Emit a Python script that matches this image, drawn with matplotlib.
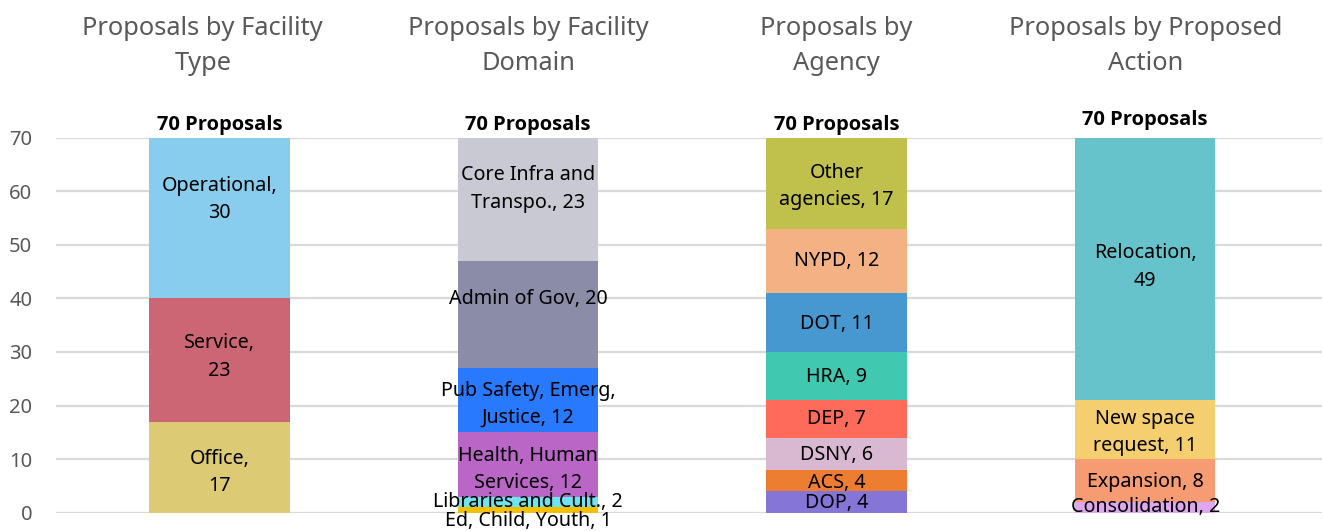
import matplotlib
matplotlib.use("Agg")
import matplotlib.pyplot as plt

# ---------------- data ----------------
titles = ["Proposals by Facility\nType", "Proposals by Facility\nDomain",
          "Proposals by\nAgency", "Proposals by Proposed\nAction"]
total_labels = ["70 Proposals", "70 Proposals", "70 Proposals", "70 Proposals"]
totals = [70, 70, 70, 70]

type_labels = ["Office,\n{}", "Service,\n{}", "Operational,\n{}"]
type_values = [17, 23, 30]
type_colors = ["#DCCA74", "#CC6674", "#88CCEE"]

domain_labels = ["Ed, Child, Youth, {}", "Libraries and Cult., {}", "Health, Human\nServices, {}",
                 "Pub Safety, Emerg,\nJustice, {}", "Admin of Gov, {}", "Core Infra and\nTranspo., {}"]
domain_values = [1, 2, 12, 12, 20, 23]
domain_colors = ["#F5C000", "#6FE3EE", "#B966C6", "#2979FF", "#8A8CA8", "#C9C9D4"]

agency_labels = ["DOP, {}", "ACS, {}", "DSNY, {}", "DEP, {}", "HRA, {}", "DOT, {}", "NYPD, {}",
                 "Other\nagencies, {}"]
agency_values = [4, 4, 6, 7, 9, 11, 12, 17]
agency_colors = ["#8475D6", "#ED7D31", "#D9B8D2", "#FF6B5B", "#40C8B0", "#4798D0", "#F4B184", "#C0C04C"]

action_labels = ["Consolidation, {}", "Expansion, {}", "New space\nrequest, {}", "Relocation,\n{}"]
action_values = [2, 8, 11, 49]
action_colors = ["#DDA8EE", "#F79B72", "#F5CE70", "#66C3CC"]

groups = [
    (type_labels, type_values, type_colors),
    (domain_labels, domain_values, domain_colors),
    (agency_labels, agency_values, agency_colors),
    (action_labels, action_values, action_colors),
]

# ---------------- layout / style ----------------
label_offsets = [  # vertical nudges of data labels, in points
    [-4, 2, 13.5],
    [-8, 0, -3.5, -3, 11.5, 7.5],
    [-1, -2, -1, 0, -1, -1, 0, -2.5],
    [0, -1, -2, 1.5],
]
title_dx = [-12, 0, 0, 0]   # points
total_dy = [0, 0, 0, 3]     # points
positions = [0, 1, 2, 3]
bar_width = 0.455

FONT = "Noto Sans"
plt.rcParams["font.family"] = [FONT, "DejaVu Sans"]

fig = plt.figure(figsize=(13.23, 5.31), dpi=100)
ax = fig.add_axes([56 / 1323, 18.3 / 531, 1266 / 1323, 375 / 531])
ax.set_xlim(-0.530, 3.573)
ax.set_ylim(0, 70)
ax.set_yticks(range(0, 71, 10))
ax.tick_params(axis="y", length=0, pad=17, labelsize=14.5, labelcolor="#595959")
ax.tick_params(axis="x", length=0, labelbottom=False)
for s in ax.spines.values():
    s.set_visible(False)
ax.grid(axis="y", color="#D9D9D9", linewidth=1.6)
ax.set_axisbelow(True)

for i, (labels, values, colors) in enumerate(groups):
    x = positions[i]
    bottom = 0
    for j, (lab, v, c) in enumerate(zip(labels, values, colors)):
        ax.bar(x, v, bottom=bottom, width=bar_width, color=c, linewidth=0, zorder=2)
        ax.annotate(lab.format(v), xy=(x, bottom + v / 2), xytext=(0, label_offsets[i][j]),
                    textcoords="offset points", ha="center", va="center",
                    fontsize=14.2, color="#000000", linespacing=1.5, zorder=3,
                    annotation_clip=False)
        bottom += v
    ax.annotate(total_labels[i], xy=(x, totals[i]), xytext=(0, 9.5 + total_dy[i]),
                textcoords="offset points", ha="center", va="center",
                fontsize=14.5, fontweight="bold", family=["Open Sans", "DejaVu Sans"],
                color="#000000", annotation_clip=False)
    ax.annotate(titles[i], xy=(x, 1.0), xycoords=("data", "figure fraction"),
                xytext=(title_dx[i], -33), textcoords="offset points",
                ha="center", va="center", fontsize=18.3, color="#595959",
                linespacing=1.55, annotation_clip=False)

fig.savefig("out.png", dpi=100)
